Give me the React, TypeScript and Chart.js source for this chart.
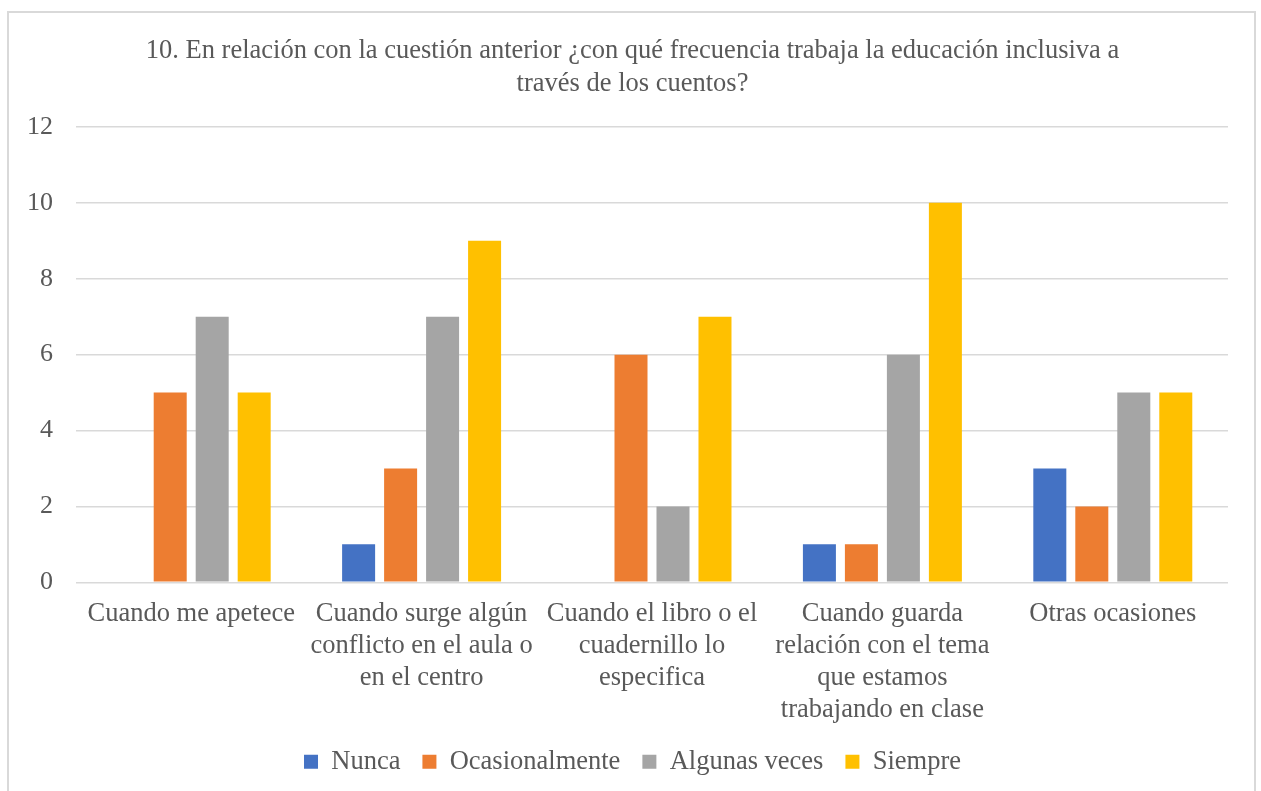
import React, { useEffect, useRef } from "react";
import { Chart, registerables } from "chart.js";

Chart.register(...registerables);

const TITLE_LINES = [
  "10. En relación con la cuestión anterior ¿con qué frecuencia trabaja la educación inclusiva a",
  "través de los cuentos?",
];

const CATEGORIES: (string | string[])[] = [
  "Cuando me apetece",
  ["Cuando surge algún", "conflicto en el aula o", "en el centro"],
  ["Cuando el libro o el", "cuadernillo lo", "especifica"],
  ["Cuando guarda", "relación con el tema", "que estamos", "trabajando en clase"],
  "Otras ocasiones",
];

const NUNCA = [0, 1, 0, 1, 3];
const OCASIONALMENTE = [5, 3, 6, 1, 2];
const ALGUNAS_VECES = [7, 7, 2, 6, 5];
const SIEMPRE = [5, 9, 7, 10, 5];

const SERIES_NAMES = ["Nunca", "Ocasionalmente", "Algunas veces", "Siempre"];
const SERIES_COLORS = ["#4472C4", "#ED7D31", "#A5A5A5", "#FFC000"];

const Y_MAX = 12;
const Y_STEP = 2;

const FONT = '"Liberation Serif", "Times New Roman", serif';
const TEXT = "#595959";
const GRID = "#d9d9d9";

export default function App() {
  const ref = useRef<HTMLCanvasElement | null>(null);

  useEffect(() => {
    if (!ref.current) return;
    const values = [NUNCA, OCASIONALMENTE, ALGUNAS_VECES, SIEMPRE];
    const chart = new Chart(ref.current, {
      type: "bar",
      data: {
        labels: CATEGORIES,
        datasets: values.map((v, i) => ({
          label: SERIES_NAMES[i],
          data: v,
          backgroundColor: SERIES_COLORS[i],
          borderWidth: 0,
          categoryPercentage: 0.729,
          barPercentage: 0.786,
        })),
      },
      options: {
        animation: false,
        responsive: false,
        maintainAspectRatio: false,
        layout: { padding: { left: 4, right: 0, top: 0, bottom: 6 } },
        plugins: {
          title: {
            display: true,
            text: TITLE_LINES,
            color: TEXT,
            font: { family: FONT, size: 26.5, weight: "normal", lineHeight: 1.245 },
            padding: { top: 35, bottom: 26 },
          },
          legend: {
            position: "bottom",
            labels: {
              color: TEXT,
              font: { family: FONT, size: 26.5 },
              boxWidth: 14,
              boxHeight: 14,
              padding: 22,
            },
          },
          tooltip: { enabled: false },
        },
        scales: {
          x: {
            grid: { display: false, drawTicks: false },
            border: { display: false },
            ticks: {
              color: TEXT,
              font: { family: FONT, size: 26.5 },
              padding: 16,
              maxRotation: 0,
              autoSkip: false,
            },
            afterFit: (scale: any) => {
              scale.height -= 15;
            },
          },
          y: {
            min: 0,
            max: Y_MAX,
            grid: { color: GRID, lineWidth: 1.5, drawTicks: false },
            border: { display: false },
            ticks: {
              stepSize: Y_STEP,
              color: TEXT,
              font: { family: FONT, size: 26 },
              padding: 23,
            },
          },
          yRight: {
            position: "right",
            min: 0,
            max: Y_MAX,
            grid: { display: false, drawTicks: false },
            border: { display: false },
            ticks: { display: false },
            afterFit: (scale: any) => {
              scale.width = 33;
            },
          },
        },
      },
    });
    return () => chart.destroy();
  }, []);

  return (
    <div style={{ position: "fixed", left: 0, top: 0, width: 1261, height: 791, background: "#fff", overflow: "hidden" }}>
      <div
        style={{
          position: "absolute",
          left: 7,
          top: 11,
          width: 1249,
          height: 820,
          border: `2px solid ${GRID}`,
          boxSizing: "border-box",
        }}
      />
      <canvas ref={ref} width={1261} height={791} style={{ position: "absolute", left: 0, top: 0 }} />
    </div>
  );
}
